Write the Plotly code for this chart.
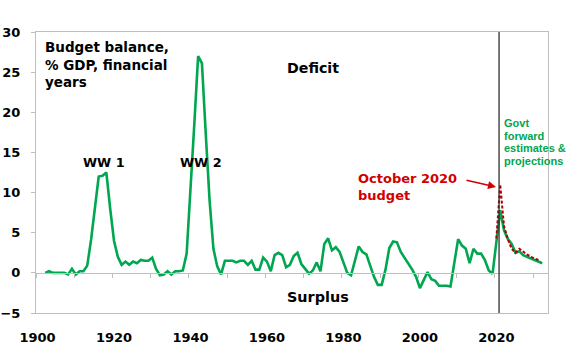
import plotly.graph_objects as go

# Australian federal budget balance, % of GDP, financial years (deficit positive)
years = list(range(1902, 2033))
balance = [
    0.0, 0.2, 0.0, 0.0, 0.0, 0.0, -0.2, 0.5, -0.2, 0.2,      # 1902-1911
    0.2, 0.9, 4.1, 7.7, 12.0, 12.1, 12.5, 8.0, 4.0, 2.0,     # 1912-1921
    1.0, 1.4, 1.0, 1.4, 1.2, 1.6, 1.5, 1.5, 1.9, 0.5,        # 1922-1931
    -0.3, -0.2, 0.2, -0.2, 0.2, 0.2, 0.3, 2.4, 10.0, 18.5,   # 1932-1941
    27.0, 26.1, 17.3, 9.0, 3.0, 0.8, -0.2, 1.5, 1.5, 1.5,    # 1942-1951
    1.3, 1.5, 1.5, 1.0, 1.5, 0.4, 0.4, 1.9, 1.4, 0.2,        # 1952-1961
    2.2, 2.5, 2.2, 0.7, 1.0, 2.1, 2.5, 1.1, 0.5, -0.1,       # 1962-1971
    0.3, 1.3, 0.2, 3.6, 4.3, 2.8, 3.2, 2.6, 1.3, 0.0,        # 1972-1981
    -0.3, 1.5, 3.3, 2.6, 2.3, 0.9, -0.5, -1.5, -1.5, 0.4,    # 1982-1991
    3.1, 3.9, 3.8, 2.6, 1.9, 1.1, 0.4, -0.5, -1.9, -0.9,     # 1992-2001
    0.1, -0.8, -1.0, -1.6, -1.6, -1.6, -1.7, 1.3, 4.2, 3.4,  # 2002-2011
    3.0, 1.2, 3.0, 2.4, 2.4, 1.6, 0.3, -0.1, 4.2, 7.8,       # 2012-2021
    5.3, 4.2, 3.6, 2.5, 2.7, 2.2, 2.0, 1.8, 1.6, 1.4,        # 2022-2031
    1.2,                                                     # 2032
]

# October 2020 budget estimates and projections
oct2020_years = list(range(2020, 2032))
oct2020_balance = [4.3, 11.0, 5.8, 4.2, 3.0, 2.5, 3.0, 2.6, 2.3, 2.0, 1.8, 1.6]

x_labels = [1900, 1920, 1940, 1960, 1980, 2000, 2020]
y_ticks = [-5, 0, 5, 10, 15, 20, 25, 30]
decade_ticks = [d - 0.4 for d in range(1900, 2031, 10)]
forecast_divider = 2020.7

x_range = [1899.6, 2033.5]
y_range = [-5, 30]

GREEN = "#00A650"
RED_TEXT = "#D20000"
RED_LINE = "#B00000"
AXIS_GREY = "#BFBFBF"
FONT = "DejaVu Sans"

fig = go.Figure()

fig.add_trace(go.Scatter(
    x=years, y=balance, mode="lines",
    line=dict(color=GREEN, width=2.6),
    showlegend=False, hoverinfo="skip",
))

fig.add_trace(go.Scatter(
    x=oct2020_years, y=oct2020_balance, mode="lines",
    line=dict(color=RED_LINE, width=2, dash="3px,2px"),
    xaxis="x2", showlegend=False, hoverinfo="skip",
))

# divider between history and forward estimates
fig.add_shape(type="line", xref="x", yref="paper",
              x0=forecast_divider, x1=forecast_divider, y0=0, y1=1,
              line=dict(color="#303030", width=1.3))


def note(text, x, y, size, xanchor="center", yanchor="middle", color="black", align="center"):
    fig.add_annotation(
        text=text, x=x, y=y, xref="x", yref="y", showarrow=False,
        xanchor=xanchor, yanchor=yanchor, align=align,
        font=dict(family=FONT, size=size, color=color, weight="bold"),
    )


note("Budget balance,<br>% GDP, financial<br>years", 1901.3, 29.4, 13.5,
     xanchor="left", yanchor="top", align="left")
note("Deficit", 1972.1, 25.5, 14.2)
note("Surplus", 1973.3, -2.95, 14.4)
note("WW 1", 1917.4, 13.8, 12.8)
note("WW 2", 1942.8, 13.7, 12.8)
note("October 2020<br>budget", 1983.3, 10.75, 13, xanchor="left",
     color=RED_TEXT, align="left")

govt_lines = ["Govt", "forward", "estimates &", "projections"]
for i, line in enumerate(govt_lines):
    fig.add_annotation(
        text=line, x=2021.4, y=18.65 - i * 1.57, xref="x", yref="y",
        showarrow=False, xanchor="left", yanchor="middle",
        font=dict(family="Liberation Sans", size=11, color=GREEN, weight="bold"),
    )

# arrow pointing at the October 2020 budget peak
fig.add_annotation(
    text="", x=2019.9, y=10.7, xref="x", yref="y",
    showarrow=True, ax=-31, ay=-7, arrowhead=2, arrowsize=1,
    arrowwidth=1.6, arrowcolor=RED_TEXT, standoff=0,
)

fig.update_layout(
    width=570, height=347,
    margin=dict(l=35.5, r=22, t=32, b=34),
    paper_bgcolor="white", plot_bgcolor="white",
    xaxis=dict(
        range=x_range, tickvals=x_labels, ticktext=[str(v) for v in x_labels],
        ticks="", showgrid=False, zeroline=False, automargin=False,
        showline=True, mirror=True, linecolor=AXIS_GREY, linewidth=1,
        tickfont=dict(family=FONT, size=13, color="black", weight="bold"),
        ticklabelstandoff=12,
    ),
    xaxis2=dict(
        range=x_range, overlaying="x", anchor="free", automargin=False,
        position=(0 - y_range[0]) / (y_range[1] - y_range[0]),
        tickvals=decade_ticks, ticks="outside", ticklen=4, tickcolor=AXIS_GREY,
        showticklabels=False, showgrid=False, zeroline=False,
        showline=True, linecolor=AXIS_GREY, linewidth=1,
    ),
    yaxis=dict(
        range=y_range, tickvals=y_ticks, ticks="outside", ticklen=4,
        tickcolor=AXIS_GREY, showgrid=False, zeroline=False, automargin=False,
        showline=True, mirror=True, linecolor=AXIS_GREY, linewidth=1,
        tickfont=dict(family=FONT, size=13, color="black", weight="bold"),
        ticklabelstandoff=8,
    ),
)

fig.write_html("out.html")
